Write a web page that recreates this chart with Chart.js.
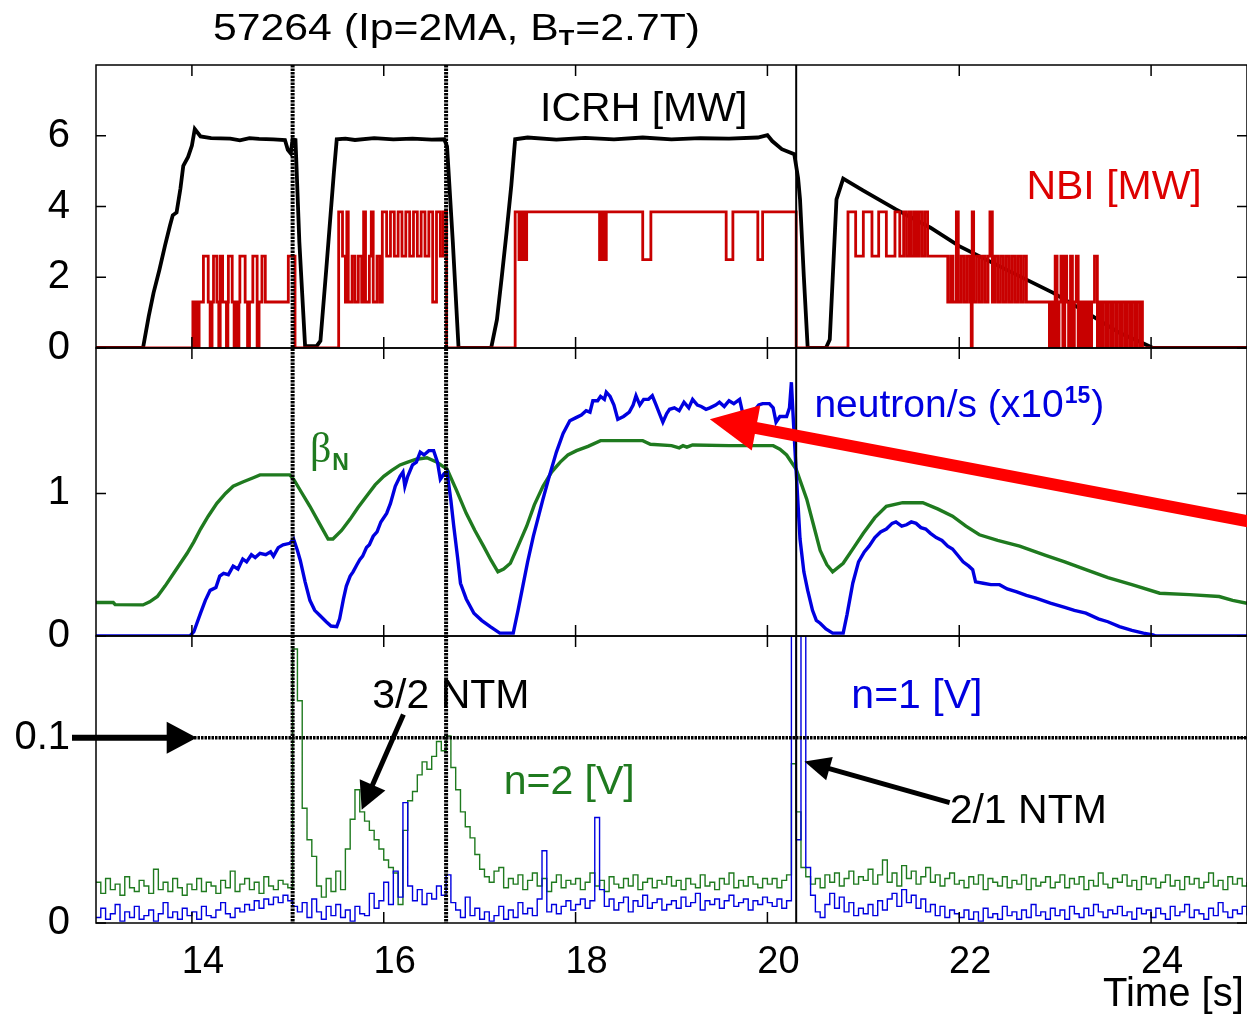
<!DOCTYPE html>
<html>
<head>
<meta charset="utf-8">
<script src="https://cdn.jsdelivr.net/npm/chart.js@4.4.1/dist/chart.umd.min.js"></script>
<style>
  html, body { margin: 0; padding: 0; background: #fff; }
  canvas { display: block; }
</style>
</head>
<body>
<canvas id="chart" width="1247" height="1016"></canvas>
<script>
// axis ticks
const xTicks = [14, 16, 18, 20, 22, 24];
const icrhTicks = [0, 2, 4, 6];
const betaTicks = [0, 1];
const mhdTicks = [0, 0.1];

// NTM onsets / markers (s) and the n=2 threshold (V)
const eventTimes = [15.05, 16.65, 20.3];
const ntmLevel = 0.1;

// ICRH power [MW]
const icrhT = [
  13.00, 13.49, 13.55, 13.60, 13.66, 13.72, 13.77, 13.80, 13.84, 13.88, 13.91, 13.96, 14.00, 14.03, 14.09,
  14.20, 14.40, 14.50, 14.60, 14.70, 14.85, 14.97, 15.00, 15.03, 15.05, 15.08, 15.12, 15.18,
  15.30, 15.34, 15.40, 15.48, 15.51, 15.60, 15.70, 15.90, 16.10, 16.30, 16.50, 16.63, 16.66, 16.72, 16.78,
  17.12, 17.18, 17.23, 17.28, 17.33, 17.37, 17.50, 17.80, 18.10, 18.40, 18.70, 19.00, 19.30, 19.60, 19.90, 20.00,
  20.05, 20.15, 20.28, 20.32, 20.34, 20.38, 20.42, 20.61, 20.65, 20.72, 20.79,
  21.00, 21.34, 21.70, 22.00, 22.50, 22.98, 23.30, 23.67, 23.91, 24.02, 25.00
];
const icrhV = [
  0, 0, 0.9, 1.56, 2.2, 2.9, 3.45, 3.75, 3.83, 4.5, 5.15, 5.4, 5.72, 6.19, 5.98,
  5.93, 5.92, 5.87, 5.93, 5.91, 5.9, 5.88, 5.6, 5.5, 5.9, 5.88, 3.0, 0.05,
  0.05, 0.2, 2.2, 4.96, 5.9, 5.92, 5.88, 5.93, 5.9, 5.92, 5.89, 5.9, 5.7, 3.0, 0,
  0, 0.8, 2.0, 3.26, 4.6, 5.9, 5.95, 5.89, 5.94, 5.9, 5.95, 5.9, 5.93, 5.92, 5.95, 6.02,
  5.85, 5.62, 5.48, 4.8, 4.2, 2.0, 0, 0, 0.24, 4.2, 4.79,
  4.45, 3.92, 3.4, 2.88, 2.2, 1.56, 1.05, 0.43, 0.14, 0, 0
];

// NBI power [MW], each value held until the next time
const nbiT = [
  13.00, 14.01, 14.03, 14.045, 14.06, 14.075, 14.12, 14.17, 14.19, 14.21, 14.225, 14.26, 14.28, 14.295, 14.32, 14.36, 14.375, 14.38, 14.42, 14.44, 14.46, 14.47, 14.49, 14.50, 14.555, 14.58, 14.60, 14.635, 14.68, 14.70, 14.73, 14.765, 15.005, 15.075,
  15.53, 15.57, 15.60, 15.615, 15.63, 15.67, 15.70, 15.735, 15.77, 15.79, 15.81, 15.85, 15.87, 15.89, 15.93, 15.96, 15.985,
  16.03, 16.07, 16.11, 16.15, 16.19, 16.23, 16.27, 16.31, 16.35, 16.39, 16.43, 16.47, 16.51, 16.55, 16.59, 16.62, 16.655,
  17.37, 17.41, 17.415, 17.425, 17.43, 17.44, 17.45, 17.46, 17.47, 17.48, 17.49, 18.25, 18.27, 18.28, 18.30, 18.305, 18.32, 18.70, 18.785, 19.57, 19.64, 19.90, 19.95, 20.30,
  20.84, 20.92, 21.00, 21.09, 21.16, 21.24, 21.33, 21.38, 21.42, 21.45, 21.48, 21.50, 21.53, 21.555, 21.58, 21.61, 21.64, 21.67,
  21.88, 21.91, 21.935, 21.97, 21.99, 22.02, 22.05, 22.08, 22.11, 22.125, 22.135, 22.15, 22.18, 22.21, 22.24, 22.27, 22.30, 22.32, 22.345, 22.37, 22.40, 22.43, 22.46, 22.49, 22.52, 22.55, 22.58, 22.61, 22.64, 22.67, 22.70,
  22.94, 22.96, 22.98, 23.00, 23.02, 23.04, 23.06, 23.08, 23.10, 23.12, 23.14, 23.16, 23.18, 23.20, 23.22, 23.24, 23.26, 23.28, 23.30, 23.32, 23.34, 23.36, 23.38, 23.41, 23.44,
  23.46, 23.48, 23.50, 23.53, 23.55, 23.58, 23.60, 23.63, 23.65, 23.68, 23.70, 23.73, 23.75, 23.78, 23.80, 23.83, 23.85, 23.88, 23.895, 23.91, 25.00
];
const nbiV = [
  0, 1.3, 0, 1.3, 0, 1.3, 2.6, 1.3, 0, 1.3, 2.6, 1.3, 0, 2.6, 1.3, 0, 1.3, 2.6, 1.3, 0, 1.3, 0, 1.3, 2.6, 1.3, 0, 1.3, 2.6, 0, 1.3, 2.6, 1.3, 2.6, 0,
  3.85, 2.6, 1.3, 3.85, 1.3, 2.6, 1.3, 2.6, 1.3, 3.85, 1.3, 2.6, 3.85, 1.3, 2.6, 1.3, 3.85,
  2.6, 3.85, 2.6, 3.85, 2.6, 3.85, 2.6, 3.85, 2.6, 3.85, 2.6, 3.85, 1.3, 3.85, 2.6, 3.85, 0,
  3.85, 2.5, 3.85, 2.5, 3.85, 2.5, 3.85, 2.5, 3.85, 2.5, 3.85, 2.5, 3.85, 2.5, 3.85, 2.5, 3.85, 2.5, 3.85, 2.5, 3.85, 2.5, 3.85, 0,
  3.85, 2.6, 3.85, 2.6, 3.85, 2.6, 3.85, 2.6, 3.85, 2.6, 3.85, 2.6, 3.85, 2.6, 3.85, 2.6, 3.85, 2.6,
  1.3, 2.6, 1.3, 3.85, 1.3, 2.6, 1.3, 2.6, 1.3, 0, 3.85, 1.3, 2.6, 1.3, 2.6, 1.3, 2.6, 3.85, 1.3, 2.6, 1.3, 2.6, 1.3, 2.6, 1.3, 2.6, 1.3, 2.6, 1.3, 2.6, 1.3,
  0, 1.3, 0, 2.6, 0, 1.3, 2.6, 0, 2.6, 1.3, 0, 2.6, 0, 1.3, 2.6, 0, 1.3, 0, 1.3, 0, 1.3, 0, 1.3, 2.6, 0,
  1.3, 0, 1.3, 0, 1.3, 0, 1.3, 0, 1.3, 0, 1.3, 0, 1.3, 0, 1.3, 0, 1.3, 0, 1.3, 0, 0
];

// normalised beta
const betaT = [
  13.00, 13.18, 13.20, 13.49, 13.56, 13.64, 13.72, 13.81, 13.88, 13.95, 14.02, 14.09, 14.17, 14.26, 14.35, 14.43, 14.53, 14.64, 14.71, 14.85,
  15.02, 15.06, 15.14, 15.23, 15.32, 15.42, 15.47, 15.56, 15.65, 15.73, 15.82, 15.91, 16.00, 16.08, 16.17, 16.25, 16.34, 16.45, 16.55, 16.66,
  16.76, 16.86, 16.95, 17.04, 17.12, 17.19, 17.25, 17.32, 17.40, 17.49, 17.57, 17.66, 17.75, 17.84, 17.92, 18.01, 18.13, 18.26, 18.50, 18.70,
  18.78, 19.00, 19.08, 19.12, 19.16, 19.22, 19.60, 20.06, 20.13, 20.20, 20.30, 20.41, 20.48, 20.55, 20.62, 20.68, 20.79, 20.90, 21.00, 21.12,
  21.24, 21.41, 21.62, 21.78, 21.93, 22.07, 22.21, 22.40, 22.63, 22.90, 23.10, 23.32, 23.55, 23.80, 24.09, 24.40, 24.71, 24.85, 25.00
];
const betaV = [
  0.235, 0.235, 0.22, 0.218, 0.24, 0.277, 0.35, 0.44, 0.51, 0.58, 0.66, 0.75, 0.84, 0.93, 1.00, 1.05, 1.08, 1.11, 1.13, 1.13,
  1.13, 1.10, 1.01, 0.91, 0.80, 0.68, 0.68, 0.74, 0.82, 0.90, 0.98, 1.06, 1.12, 1.16, 1.20, 1.22, 1.24, 1.25, 1.22, 1.17,
  1.02, 0.86, 0.74, 0.63, 0.53, 0.45, 0.47, 0.51, 0.63, 0.77, 0.92, 1.05, 1.15, 1.22, 1.27, 1.30, 1.33, 1.37, 1.37, 1.37,
  1.345, 1.335, 1.32, 1.335, 1.325, 1.34, 1.335, 1.335, 1.31, 1.27, 1.17, 0.96, 0.78, 0.60, 0.50, 0.45, 0.51, 0.62, 0.72, 0.83,
  0.91, 0.935, 0.935, 0.89, 0.84, 0.77, 0.71, 0.67, 0.63, 0.565, 0.52, 0.465, 0.41, 0.36, 0.30, 0.29, 0.277, 0.25, 0.23
];

// neutron rate (x10^15 /s)
const neutT = [
  13.00, 13.98, 14.02, 14.09, 14.14, 14.19, 14.25, 14.29, 14.33, 14.38, 14.43, 14.48, 14.53, 14.57, 14.62, 14.66, 14.71, 14.77, 14.82, 14.85,
  14.90, 14.95, 15.02, 15.06, 15.10, 15.13, 15.18, 15.23, 15.28, 15.34, 15.40, 15.45, 15.51, 15.54, 15.58, 15.61, 15.65, 15.68, 15.72, 15.75,
  15.78, 15.82, 15.85, 15.89, 15.93, 15.97, 16.03, 16.07, 16.12, 16.17, 16.20, 16.22, 16.25, 16.30, 16.34, 16.38, 16.42, 16.47, 16.52, 16.56,
  16.59, 16.63, 16.66, 16.70, 16.73, 16.77, 16.80, 16.86, 16.94, 17.02, 17.11, 17.21, 17.35, 17.40, 17.45, 17.50, 17.56, 17.61, 17.66, 17.73,
  17.80, 17.87, 17.94, 18.00, 18.06, 18.11, 18.15, 18.18, 18.23, 18.26, 18.30, 18.32, 18.36, 18.40, 18.44, 18.50, 18.56, 18.60, 18.63, 18.67,
  18.71, 18.76, 18.80, 18.84, 18.88, 18.91, 18.95, 18.98, 19.03, 19.08, 19.13, 19.18, 19.22, 19.27, 19.31, 19.36, 19.40, 19.46, 19.50, 19.55,
  19.60, 19.65, 19.71, 19.75, 19.80, 19.86, 19.91, 19.95, 20.02, 20.06, 20.09, 20.13, 20.20, 20.23, 20.25, 20.27, 20.30, 20.34, 20.38, 20.42,
  20.47, 20.51, 20.55, 20.61, 20.68, 20.79, 20.83, 20.89, 20.95, 21.01, 21.06, 21.12, 21.18, 21.24, 21.30, 21.34, 21.40, 21.45, 21.50, 21.55,
  21.60, 21.65, 21.70, 21.76, 21.82, 21.88, 21.93, 21.98, 22.04, 22.10, 22.14, 22.17, 22.25, 22.33, 22.42, 22.50, 22.60, 22.70, 22.80, 22.95,
  23.10, 23.20, 23.32, 23.45, 23.55, 23.67, 23.80, 23.92, 24.02, 24.05, 25.00
];
const neutV = [
  0, 0, 0.03, 0.16, 0.25, 0.32, 0.34, 0.42, 0.44, 0.43, 0.49, 0.47, 0.54, 0.52, 0.57, 0.55, 0.58, 0.57, 0.59, 0.56,
  0.62, 0.64, 0.65, 0.68, 0.60, 0.53, 0.38, 0.25, 0.18, 0.14, 0.10, 0.07, 0.066, 0.12, 0.26, 0.35, 0.42, 0.45, 0.50, 0.535,
  0.56, 0.62, 0.64, 0.70, 0.73, 0.80, 0.86, 0.93, 1.05, 1.12, 1.15, 1.05, 1.12, 1.20, 1.22, 1.29, 1.27, 1.30, 1.30, 1.22,
  1.10, 1.14, 1.15, 0.95, 0.77, 0.55, 0.37, 0.26, 0.16, 0.11, 0.066, 0.02, 0.02, 0.18, 0.35, 0.52, 0.70, 0.83, 0.96, 1.13,
  1.29, 1.42, 1.51, 1.53, 1.55, 1.58, 1.57, 1.65, 1.65, 1.68, 1.66, 1.71, 1.68, 1.62, 1.52, 1.54, 1.57, 1.62, 1.685, 1.62,
  1.66, 1.66, 1.685, 1.62, 1.55, 1.50, 1.56, 1.59, 1.60, 1.58, 1.64, 1.60, 1.66, 1.62, 1.61, 1.59, 1.60, 1.62, 1.64, 1.61,
  1.65, 1.63, 1.66, 1.54, 1.55, 1.58, 1.62, 1.63, 1.63, 1.60, 1.50, 1.54, 1.54, 1.60, 1.78, 1.52, 1.15, 0.68, 0.45, 0.32,
  0.18, 0.11, 0.09, 0.05, 0.02, 0.02, 0.15, 0.37, 0.52, 0.59, 0.63, 0.69, 0.73, 0.75, 0.79, 0.80, 0.77, 0.78, 0.80, 0.79,
  0.76, 0.75, 0.72, 0.69, 0.67, 0.63, 0.61, 0.57, 0.52, 0.49, 0.465, 0.38, 0.37, 0.36, 0.36, 0.33, 0.31, 0.285, 0.265, 0.23,
  0.20, 0.18, 0.16, 0.12, 0.10, 0.066, 0.04, 0.02, 0.007, 0, 0
];

// MHD pick-up coils [V], sampled every 0.05 s
const mhdT = [
  13.00, 13.05, 13.10, 13.15, 13.20, 13.25, 13.30, 13.35, 13.40, 13.45, 13.50, 13.55, 13.60, 13.65, 13.70, 13.75, 13.80, 13.85, 13.90, 13.95,
  14.00, 14.05, 14.10, 14.15, 14.20, 14.25, 14.30, 14.35, 14.40, 14.45, 14.50, 14.55, 14.60, 14.65, 14.70, 14.75, 14.80, 14.85, 14.90, 14.95,
  15.00, 15.05, 15.10, 15.15, 15.20, 15.25, 15.30, 15.35, 15.40, 15.45, 15.50, 15.55, 15.60, 15.65, 15.70, 15.75, 15.80, 15.85, 15.90, 15.95,
  16.00, 16.05, 16.10, 16.15, 16.20, 16.25, 16.30, 16.35, 16.40, 16.45, 16.50, 16.55, 16.60, 16.65, 16.70, 16.75, 16.80, 16.85, 16.90, 16.95,
  17.00, 17.05, 17.10, 17.15, 17.20, 17.25, 17.30, 17.35, 17.40, 17.45, 17.50, 17.55, 17.60, 17.65, 17.70, 17.75, 17.80, 17.85, 17.90, 17.95,
  18.00, 18.05, 18.10, 18.15, 18.20, 18.25, 18.30, 18.35, 18.40, 18.45, 18.50, 18.55, 18.60, 18.65, 18.70, 18.75, 18.80, 18.85, 18.90, 18.95,
  19.00, 19.05, 19.10, 19.15, 19.20, 19.25, 19.30, 19.35, 19.40, 19.45, 19.50, 19.55, 19.60, 19.65, 19.70, 19.75, 19.80, 19.85, 19.90, 19.95,
  20.00, 20.05, 20.10, 20.15, 20.20, 20.25, 20.30, 20.35, 20.40, 20.45, 20.50, 20.55, 20.60, 20.65, 20.70, 20.75, 20.80, 20.85, 20.90, 20.95,
  21.00, 21.05, 21.10, 21.15, 21.20, 21.25, 21.30, 21.35, 21.40, 21.45, 21.50, 21.55, 21.60, 21.65, 21.70, 21.75, 21.80, 21.85, 21.90, 21.95,
  22.00, 22.05, 22.10, 22.15, 22.20, 22.25, 22.30, 22.35, 22.40, 22.45, 22.50, 22.55, 22.60, 22.65, 22.70, 22.75, 22.80, 22.85, 22.90, 22.95,
  23.00, 23.05, 23.10, 23.15, 23.20, 23.25, 23.30, 23.35, 23.40, 23.45, 23.50, 23.55, 23.60, 23.65, 23.70, 23.75, 23.80, 23.85, 23.90, 23.95,
  24.00, 24.05, 24.10, 24.15, 24.20, 24.25, 24.30, 24.35, 24.40, 24.45, 24.50, 24.55, 24.60, 24.65, 24.70, 24.75, 24.80, 24.85, 24.90, 24.95, 25.00
];
const n2V = [
  0.022, 0.016, 0.024, 0.018, 0.021, 0.015, 0.025, 0.019, 0.017, 0.023, 0.020, 0.016, 0.029, 0.018, 0.022, 0.017, 0.024, 0.019, 0.015, 0.021,
  0.018, 0.024, 0.017, 0.022, 0.020, 0.016, 0.023, 0.019, 0.028, 0.017, 0.021, 0.024, 0.018, 0.022, 0.016, 0.025, 0.020, 0.018, 0.023, 0.021,
  0.019, 0.148, 0.120, 0.062, 0.045, 0.036, 0.020, 0.014, 0.024, 0.017, 0.028, 0.018, 0.040, 0.056, 0.072, 0.060, 0.055, 0.050, 0.045, 0.040,
  0.034, 0.030, 0.027, 0.010, 0.050, 0.066, 0.071, 0.080, 0.087, 0.083, 0.090, 0.098, 0.093, 0.101, 0.084, 0.072, 0.060, 0.052, 0.046, 0.037,
  0.029, 0.025, 0.022, 0.028, 0.030, 0.019, 0.024, 0.021, 0.026, 0.018, 0.023, 0.027, 0.020, 0.024, 0.017, 0.022, 0.026, 0.019, 0.023, 0.021,
  0.024, 0.018, 0.022, 0.027, 0.020, 0.023, 0.017, 0.025, 0.021, 0.019, 0.024, 0.020, 0.026, 0.018, 0.022, 0.024, 0.019, 0.023, 0.021, 0.025,
  0.020, 0.023, 0.018, 0.024, 0.021, 0.019, 0.026, 0.020, 0.022, 0.018, 0.024, 0.021, 0.027, 0.019, 0.023, 0.020, 0.025, 0.021, 0.019, 0.024,
  0.021, 0.024, 0.019, 0.023, 0.026, 0.086, 0.060, 0.030, 0.025, 0.021, 0.024, 0.019, 0.026, 0.022, 0.027, 0.020, 0.024, 0.028, 0.021, 0.025,
  0.023, 0.029, 0.021, 0.026, 0.034, 0.022, 0.027, 0.020, 0.031, 0.024, 0.028, 0.021, 0.025, 0.030, 0.022, 0.026, 0.020, 0.024, 0.027, 0.021,
  0.023, 0.019, 0.025, 0.021, 0.026, 0.018, 0.024, 0.022, 0.020, 0.025, 0.019, 0.023, 0.021, 0.026, 0.018, 0.024, 0.020, 0.022, 0.025, 0.019,
  0.022, 0.026, 0.019, 0.024, 0.021, 0.025, 0.018, 0.023, 0.020, 0.027, 0.021, 0.019, 0.024, 0.022, 0.026, 0.020, 0.023, 0.018, 0.025, 0.021,
  0.024, 0.019, 0.022, 0.026, 0.020, 0.023, 0.018, 0.025, 0.021, 0.024, 0.019, 0.022, 0.027, 0.020, 0.023, 0.018, 0.025, 0.021, 0.024, 0.020, 0.022
];
const n1V = [
  0.003, 0.008, 0.002, 0.005, 0.010, 0.001, 0.006, 0.003, 0.009, 0.002, 0.004, 0.007, 0.001, 0.005, 0.011, 0.003, 0.006, 0.002, 0.008, 0.004,
  0.006, 0.002, 0.009, 0.004, 0.003, 0.007, 0.011, 0.005, 0.003, 0.008, 0.006, 0.010, 0.007, 0.012, 0.008, 0.013, 0.010, 0.014, 0.011, 0.015,
  0.012, 0.009, 0.006, 0.011, 0.003, 0.013, 0.006, 0.002, 0.009, 0.004, 0.010, 0.003, 0.007, 0.001, 0.009, 0.005, 0.004, 0.016, 0.008, 0.012,
  0.022, 0.010, 0.028, 0.014, 0.065, 0.020, 0.012, 0.018, 0.010, 0.016, 0.013, 0.020, 0.015, 0.026, 0.011, 0.007, 0.003, 0.014, 0.004, 0.008,
  0.002, 0.006, 0.001, 0.004, 0.009, 0.002, 0.007, 0.003, 0.011, 0.005, 0.008, 0.004, 0.013, 0.039, 0.006, 0.010, 0.005, 0.009, 0.012, 0.007,
  0.010, 0.013, 0.008, 0.012, 0.057, 0.018, 0.009, 0.013, 0.007, 0.011, 0.014, 0.006, 0.012, 0.009, 0.015, 0.008, 0.011, 0.013, 0.007, 0.010,
  0.012, 0.008, 0.014, 0.009, 0.011, 0.016, 0.007, 0.012, 0.010, 0.013, 0.008, 0.012, 0.015, 0.009, 0.011, 0.013, 0.007, 0.012, 0.010, 0.014,
  0.011, 0.009, 0.013, 0.008, 0.012, 0.155, 0.045, 0.155, 0.030, 0.015, 0.006, 0.003, 0.010, 0.016, 0.008, 0.014, 0.006, 0.011, 0.004, 0.008,
  0.005, 0.010, 0.004, 0.012, 0.007, 0.013, 0.016, 0.009, 0.018, 0.011, 0.015, 0.008, 0.013, 0.006, 0.010, 0.004, 0.009, 0.003, 0.007, 0.005,
  0.003, 0.007, 0.002, 0.006, 0.001, 0.008, 0.003, 0.005, 0.002, 0.009, 0.004, 0.006, 0.002, 0.007, 0.003, 0.010, 0.004, 0.006, 0.002, 0.008,
  0.004, 0.007, 0.002, 0.009, 0.005, 0.003, 0.008, 0.004, 0.010, 0.006, 0.003, 0.007, 0.005, 0.009, 0.004, 0.006, 0.002, 0.008, 0.005, 0.007,
  0.003, 0.008, 0.005, 0.002, 0.009, 0.004, 0.006, 0.010, 0.003, 0.007, 0.005, 0.002, 0.008, 0.004, 0.011, 0.006, 0.003, 0.007, 0.005, 0.009, 0.004
];

const FONT = '"Liberation Sans", Arial, Helvetica, sans-serif';
const BLACK = '#000000';
const RED = '#c80000';
const GREEN = '#1f7a1f';
const BLUE = '#0000e0';

const pts = (t, v) => t.map((x, i) => ({ x, y: v[i] }));

function arrow(ctx, x1, y1, x2, y2, width, headLen, headHalf, color) {
  const a = Math.atan2(y2 - y1, x2 - x1);
  const c = Math.cos(a), s = Math.sin(a);
  const bx = x2 - headLen * c, by = y2 - headLen * s;
  ctx.save();
  ctx.setLineDash([]);
  ctx.strokeStyle = color;
  ctx.fillStyle = color;
  ctx.lineWidth = width;
  ctx.beginPath();
  ctx.moveTo(x1, y1);
  ctx.lineTo(bx + 2 * c, by + 2 * s);
  ctx.stroke();
  ctx.beginPath();
  ctx.moveTo(x2, y2);
  ctx.lineTo(bx + headHalf * s, by - headHalf * c);
  ctx.lineTo(bx - headHalf * s, by + headHalf * c);
  ctx.closePath();
  ctx.fill();
  ctx.restore();
}

function text(ctx, str, x, y, color, font) {
  ctx.font = font;
  ctx.fillStyle = color;
  ctx.fillText(str, x, y);
  return x + ctx.measureText(str).width;
}

const decor = {
  id: 'decor',
  afterDatasetsDraw(chart) {
    const { ctx, scales } = chart;
    const { x, yTop, yMid, yBot } = scales;
    const panels = [[yTop, icrhTicks], [yMid, betaTicks], [yBot, mhdTicks]];
    ctx.save();
    ctx.textAlign = 'left';
    ctx.textBaseline = 'alphabetic';
    ctx.strokeStyle = BLACK;

    // threshold line on the n=2 panel
    const py01 = yBot.getPixelForValue(ntmLevel);
    ctx.lineWidth = 3.5;
    ctx.setLineDash([2.5, 1]);
    ctx.beginPath();
    ctx.moveTo(x.left, py01);
    ctx.lineTo(x.right, py01);
    ctx.stroke();

    // event markers through all panels
    eventTimes.forEach((t, i) => {
      const px = x.getPixelForValue(t);
      ctx.lineWidth = i < 2 ? 4 : 2;
      ctx.setLineDash(i < 2 ? [2.5, 1] : []);
      ctx.beginPath();
      ctx.moveTo(px, yTop.top);
      ctx.lineTo(px, yBot.bottom);
      ctx.stroke();
    });
    ctx.setLineDash([]);

    // panel frames with inward ticks
    ctx.lineWidth = 1.5;
    for (const [p, ticks] of panels) {
      ctx.strokeRect(x.left, p.top, x.right - x.left, p.bottom - p.top);
      ctx.beginPath();
      for (const t of xTicks) {
        const px = x.getPixelForValue(t);
        ctx.moveTo(px, p.bottom);
        ctx.lineTo(px, p.bottom - 11);
        ctx.moveTo(px, p.top);
        ctx.lineTo(px, p.top + 11);
      }
      for (const v of ticks) {
        const py = p.getPixelForValue(v);
        ctx.moveTo(x.left, py);
        ctx.lineTo(x.left + 10, py);
        ctx.moveTo(x.right, py);
        ctx.lineTo(x.right - 10, py);
      }
      ctx.stroke();
    }

    const X = t => x.getPixelForValue(t);
    const big = '41px ' + FONT;

    // panel labels
    text(ctx, 'ICRH [MW]', X(17.63), yTop.getPixelForValue(6.42), BLACK, big);
    text(ctx, 'NBI [MW]', X(22.70), yTop.getPixelForValue(4.2), '#dd0000', big);

    const bx = text(ctx, '\u03b2', X(15.23), yMid.getPixelForValue(1.218), GREEN, '42px "Liberation Serif", serif');
    text(ctx, 'N', bx + 1, yMid.getPixelForValue(1.162), GREEN, 'bold 23px ' + FONT);

    const ny = yMid.getPixelForValue(1.533);
    let nx = text(ctx, 'neutron/s (x10', X(20.49), ny, BLUE, '39px ' + FONT);
    nx = text(ctx, '15', nx + 1, ny - 14, BLUE, 'bold 23px ' + FONT);
    text(ctx, ')', nx + 1, ny, BLUE, '39px ' + FONT);

    text(ctx, '3/2 NTM', X(15.88), yBot.getPixelForValue(0.1162), BLACK, big);
    text(ctx, 'n=2 [V]', X(17.25), yBot.getPixelForValue(0.0694), GREEN, big);
    text(ctx, 'n=1 [V]', X(20.875), yBot.getPixelForValue(0.1162), BLUE, big);
    text(ctx, '2/1 NTM', X(21.90), yBot.getPixelForValue(0.054), BLACK, big);

    // arrows
    arrow(ctx, x.left - 24, py01, X(14.05), py01, 6, 30, 16, BLACK);
    arrow(ctx, X(16.205), yBot.getPixelForValue(0.1126), X(15.77), yBot.getPixelForValue(0.0612), 5, 27, 14, BLACK);
    arrow(ctx, X(21.90), yBot.getPixelForValue(0.065), X(20.386), yBot.getPixelForValue(0.0872), 5, 26, 12, BLACK);
    arrow(ctx, X(25.05), yMid.getPixelForValue(0.80), X(19.40), yMid.getPixelForValue(1.521), 12, 47, 23, '#ff0000');

    // title
    ctx.save();
    ctx.translate(213, 40);
    ctx.scale(1.155, 1);
    let tx = text(ctx, '57264 (Ip=2MA, B', 0, 0, BLACK, '37px ' + FONT);
    tx = text(ctx, 'T', tx, 5, BLACK, 'bold 22px ' + FONT);
    text(ctx, '=2.7T)', tx + 1, 0, BLACK, '37px ' + FONT);
    ctx.restore();

    // axis title
    text(ctx, 'Time [s]', 1103, 1006, BLACK, '40px ' + FONT);
    ctx.restore();
  }
};

const yAxis = (ticks, max, weight, stackWeight) => ({
  type: 'linear',
  position: 'left',
  stack: 'panels',
  stackWeight,
  weight,
  min: 0,
  max,
  grid: { display: false },
  border: { display: false },
  afterBuildTicks: s => { s.ticks = ticks.map(value => ({ value })); },
  afterFit: s => { s.width = 96; },
  ticks: { color: BLACK, padding: 18, font: { family: FONT, size: 40 }, callback: v => String(v) }
});

const line = (label, data, yAxisID, color, width, order, stepped) => ({
  label, data, yAxisID,
  borderColor: color,
  borderWidth: width,
  pointRadius: 0,
  fill: false,
  tension: 0,
  stepped: stepped || false,
  order
});

new Chart(document.getElementById('chart'), {
  type: 'line',
  data: {
    datasets: [
      line('NBI [MW]', pts(nbiT, nbiV), 'yTop', RED, 2.8, 1, true),
      line('ICRH [MW]', pts(icrhT, icrhV), 'yTop', BLACK, 3.8, 2),
      line('neutron/s', pts(neutT, neutV), 'yMid', BLUE, 3.4, 1),
      line('betaN', pts(betaT, betaV), 'yMid', GREEN, 3.4, 2),
      line('n=1 [V]', pts(mhdT, n1V), 'yBot', BLUE, 1.4, 1, true),
      line('n=2 [V]', pts(mhdT, n2V), 'yBot', GREEN, 1.4, 2, true)
    ]
  },
  options: {
    responsive: false,
    animation: false,
    devicePixelRatio: 1,
    layout: { padding: { top: 65, right: 0, left: 0, bottom: 0 } },
    plugins: { legend: { display: false }, tooltip: { enabled: false } },
    scales: {
      x: {
        type: 'linear',
        min: 13,
        max: 25,
        grid: { display: false },
        border: { display: false },
        afterBuildTicks: s => { s.ticks = xTicks.map(value => ({ value })); },
        afterFit: s => { s.height = 93; },
        ticks: { color: BLACK, padding: 9, labelOffset: 11, maxRotation: 0, autoSkip: false,
                 font: { family: FONT, size: 38 } }
      },
      yTop: yAxis(icrhTicks, 8, 3, 283),
      yMid: yAxis(betaTicks, 2.02, 2, 288),
      yBot: yAxis(mhdTicks, 0.155, 1, 287)
    }
  },
  plugins: [decor]
});
</script>
</body>
</html>
